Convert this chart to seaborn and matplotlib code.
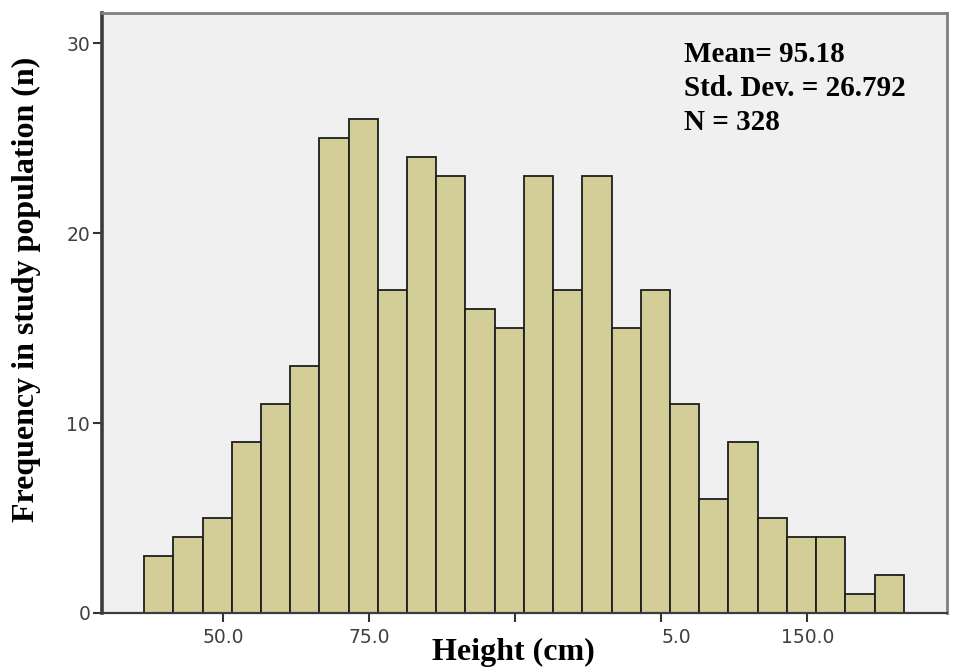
import numpy as np
import pandas as pd
import matplotlib
matplotlib.use("Agg")
import matplotlib.pyplot as plt
import seaborn as sns

# ---- data ----
bin_start = 36.5
bin_width = 5.0
counts = [3, 4, 5, 9, 11, 13, 25, 26, 17, 24, 23, 16, 15,
          23, 17, 23, 15, 17, 11, 6, 9, 5, 4, 4, 1, 2]
x_ticks = [50, 75, 100, 125, 150]
x_tick_labels = ["50.0", "75.0", "", "5.0", "150.0"]
y_ticks = [0, 10, 20, 30]
stats_lines = ["Mean= 95.18", "Std. Dev. = 26.792", "N = 328"]
x_label = "Height (cm)"
y_label = "Frequency in study population (n)"

edges = bin_start + bin_width * np.arange(len(counts) + 1)
centers = (edges[:-1] + edges[1:]) / 2
df = pd.DataFrame({"height": centers, "count": counts})

sns.set_style("ticks")
plt.rcParams["font.family"] = ["DejaVu Sans"]

fig = plt.figure(figsize=(9.54, 6.67), dpi=100)
fig.patch.set_facecolor("white")
ax = fig.add_axes([102 / 954, 54 / 667, 845 / 954, 600 / 667])
ax.set_facecolor("#f0f0f0")

sns.histplot(data=df, x="height", weights="count", bins=list(edges), ax=ax,
             color="#d3ce98", edgecolor="#1e1e1e", linewidth=1.3,
             alpha=1.0)

ax.set_xlim(29.3, 173.9)
ax.set_ylim(0, 31.6)

ax.set_xticks(x_ticks)
ax.set_xticklabels(x_tick_labels)
ax.set_yticks(y_ticks)
ax.set_yticklabels([str(v) for v in y_ticks])
lbls = ax.get_xticklabels()
lbls[3].set_horizontalalignment("left")

ax.tick_params(axis="both", direction="out", length=6.5, width=1.5,
               color="#333333", labelcolor="#404040", labelsize=13.5)
ax.tick_params(axis="x", pad=4)
ax.tick_params(axis="y", pad=2)

for side, sp in ax.spines.items():
    sp.set_visible(True)
ax.spines["left"].set_color("#3c3c3c")
ax.spines["left"].set_linewidth(2.6)
ax.spines["bottom"].set_color("#3c3c3c")
ax.spines["bottom"].set_linewidth(1.6)
ax.spines["top"].set_color("#808080")
ax.spines["top"].set_linewidth(2.0)
ax.spines["right"].set_color("#808080")
ax.spines["right"].set_linewidth(2.0)

serif = ["Liberation Serif", "DejaVu Serif"]
ax.set_xlabel(x_label, family=serif, fontweight="bold", fontsize=23,
              color="black")
ax.xaxis.label.set_va("baseline")
ax.xaxis.set_label_coords((513.5 - 102) / 845, (613 - 660) / 600)

ax.set_ylabel(y_label, family=serif, fontweight="bold", fontsize=23,
              color="black")
ax.yaxis.label.set_va("center")
ax.yaxis.set_label_coords((26 - 102) / 845, (613 - 289) / 600)

baselines = [62, 96, 130]
for line, by in zip(stats_lines, baselines):
    ax.text((684 - 102) / 845, (613 - by) / 600, line, transform=ax.transAxes,
            family=serif, fontweight="bold", fontsize=21,
            ha="left", va="baseline", color="black")

fig.savefig("out.png", dpi=100)
